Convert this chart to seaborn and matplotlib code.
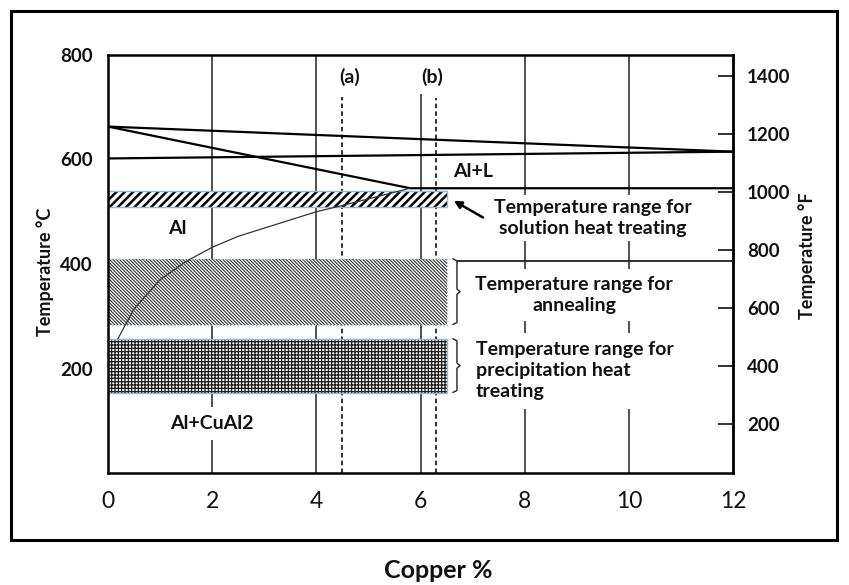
import numpy as np
import pandas as pd
import matplotlib
matplotlib.use("Agg")
import matplotlib.pyplot as plt
import seaborn as sns
from matplotlib.patches import Rectangle

# ---------------- data ----------------
x_ticks = [0, 2, 4, 6, 8, 10, 12]
c_ticks = [200, 400, 600, 800]
f_ticks = [200, 400, 600, 800, 1000, 1200, 1400]

liq_top_x = [0, 12]
liq_top_t = [663, 615]
liq_mid_x = [0, 12]
liq_mid_t = [602, 615]
solidus_x = [0, 5.8, 12]
solidus_t = [663, 545, 545]
solvus_x = [0.19, 0.5, 1.0, 1.5, 2.0, 2.5, 4.0, 4.5, 5.8]
solvus_t = [257, 314, 370, 405, 432, 453, 500, 512, 545]

grid_x = [2, 4, 6, 8, 10]
grid_top = [800, 800, 725, 800, 800]
ref_x = [4.5, 6.3]
ref_top = [720, 718]
ref_labels = ["(a)", "(b)"]

band_names = ["solution", "annealing", "precipitation"]
band_lo = [510, 284, 154]
band_hi = [539, 410, 257]
band_x_end = 6.5

# ---------------- style ----------------
sns.set_theme(style="white")
plt.rcParams['font.family'] = ['Lato', 'DejaVu Sans']
TXT = '#111111'

fig = plt.figure(figsize=(8.49, 5.85), dpi=100)
ax = fig.add_axes([108/849, 1-473/585, (733-108)/849, (473-55)/585])
ax.set_xlim(0, 12)
ax.set_ylim(0, 800)

# gridlines
ax.vlines(grid_x, 0, grid_top, colors='#333333', lw=1.2, zorder=1)
# reference dashed lines
ax.vlines(ref_x, 0, ref_top, colors='#222222', lw=1.3, linestyles=(0, (2.5, 1.8)), zorder=1)

# bands
hatches = ['////', '\\' * 10, '+' * 5]
hatch_lw = [1.8, 0.8, 0.9]
hatch_col = ['black', '#333333', '#1a1a1a']
edge_ls = ['-', ':', '-']
for i, name in enumerate(band_names):
    with plt.rc_context({'hatch.linewidth': hatch_lw[i]}):
        r = Rectangle((0, band_lo[i]), band_x_end, band_hi[i]-band_lo[i],
                      facecolor='white', edgecolor=hatch_col[i], hatch=hatches[i],
                      lw=0, zorder=2)
        try:
            r.set_hatch_linewidth(hatch_lw[i])
        except Exception:
            pass
        ax.add_patch(r)
    ax.add_patch(Rectangle((0, band_lo[i]), band_x_end, band_hi[i]-band_lo[i],
                           facecolor='none', edgecolor='#8fb8dc', lw=1.0,
                           linestyle=edge_ls[i], zorder=2.2))

# phase lines
sns.lineplot(x=liq_top_x, y=liq_top_t, ax=ax, color='black', lw=1.6, sort=False, estimator=None, zorder=3)
sns.lineplot(x=liq_mid_x, y=liq_mid_t, ax=ax, color='black', lw=1.6, sort=False, estimator=None, zorder=3)
sns.lineplot(x=solidus_x, y=solidus_t, ax=ax, color='black', lw=1.6, sort=False, estimator=None, zorder=3)
sns.lineplot(x=solvus_x, y=solvus_t, ax=ax, color='#333333', lw=0.9, sort=False, estimator=None, zorder=3)

# horizontal line at the right
ax.hlines(405, 6.7, 12, colors='#222222', lw=1.3, zorder=3)

# braces
def brace(lo, hi, x=6.7):
    mid = (lo + hi) / 2
    xs = [x-0.08, x, x, x+0.06, x, x, x-0.08]
    ys = [hi, hi-4, mid+5, mid, mid-5, lo+4, lo]
    ax.plot(xs, ys, color='#222222', lw=1.0, zorder=3)
brace(band_lo[1], band_hi[1])
brace(band_lo[2], band_hi[2])

# arrow
ax.annotate('', xy=(6.64, 521), xytext=(7.2, 489),
            arrowprops=dict(arrowstyle='-|>', color='black', lw=1.8,
                            mutation_scale=11, shrinkA=0, shrinkB=0), zorder=4)

# texts
FS = 14
ax.text(9.3, 488, "Temperature range for\nsolution heat treating", ha='center', va='center',
        fontsize=FS, fontweight='bold', color=TXT, linespacing=1.3,
        bbox=dict(facecolor='white', edgecolor='none', pad=3), zorder=2.5)
ax.text(8.95, 341, "Temperature range for\nannealing", ha='center', va='center',
        fontsize=FS, fontweight='bold', color=TXT, linespacing=1.3,
        bbox=dict(facecolor='white', edgecolor='none', pad=5), zorder=2.5)
ax.text(7.06, 196, "Temperature range for\nprecipitation heat\ntreating", ha='left', va='center',
        fontsize=FS, fontweight='bold', color=TXT, linespacing=1.3,
        bbox=dict(facecolor='white', edgecolor='none', pad=6), zorder=2.5)

ax.text(1.33, 467, "Al", ha='center', va='center', fontsize=14, fontweight='bold', color=TXT, zorder=4)
ax.text(7.0, 577, "Al+L", ha='center', va='center', fontsize=14, fontweight='bold', color=TXT, zorder=4)
ax.text(2.0, 95, "Al+CuAl2", ha='center', va='center', fontsize=14, fontweight='bold', color=TXT,
        bbox=dict(facecolor='white', edgecolor='none', pad=6), zorder=2.5)
for xv, lab in zip([4.64, 6.23], ref_labels):
    ax.text(xv, 758, lab, ha='center', va='center', fontsize=14, fontweight='bold', color=TXT, zorder=4)

# axes formatting
ax.set_xticks(x_ticks)
ax.set_xticklabels([str(v) for v in x_ticks], fontsize=16.5, color=TXT)
ax.set_yticks(c_ticks)
ax.set_yticklabels([str(v) for v in c_ticks], fontsize=13.5, fontweight='bold', color=TXT)
ax.tick_params(axis='x', length=0, pad=13)
ax.tick_params(axis='y', length=0, pad=11)
for s in ax.spines.values():
    s.set_color('black')
    s.set_linewidth(1.8)
ax.grid(False)

c2f = lambda c: np.asarray(c) * 9 / 5 + 32
f2c = lambda f: (np.asarray(f) - 32) * 5 / 9
sec = ax.secondary_yaxis('right', functions=(c2f, f2c))
sec.set_yticks(f_ticks)
sec.set_yticklabels([str(v) for v in f_ticks], fontsize=13.5, fontweight='bold', color=TXT)
sec.tick_params(axis='y', direction='in', length=11, width=1.3, color='#222222', pad=10)
sec.spines['right'].set_linewidth(1.8)

# axis labels
fig.text(45/849, 1-272/585, "Temperature °C", rotation=90, ha='center', va='center',
         fontsize=13, fontweight='bold', color=TXT)
fig.text(807/849, 1-256/585, "Temperature °F", rotation=90, ha='center', va='center',
         fontsize=13, fontweight='bold', color=TXT)
fig.text(438/849, 1-570/585, "Copper %", ha='center', va='center',
         fontsize=18, fontweight='bold', color=TXT)

# outer frame
fig.add_artist(Rectangle((11/849, 1-540/585), (837-11)/849, (540-11)/585,
                         transform=fig.transFigure, facecolor='none', edgecolor='black', lw=2.2))

fig.savefig("out.png", dpi=100)
